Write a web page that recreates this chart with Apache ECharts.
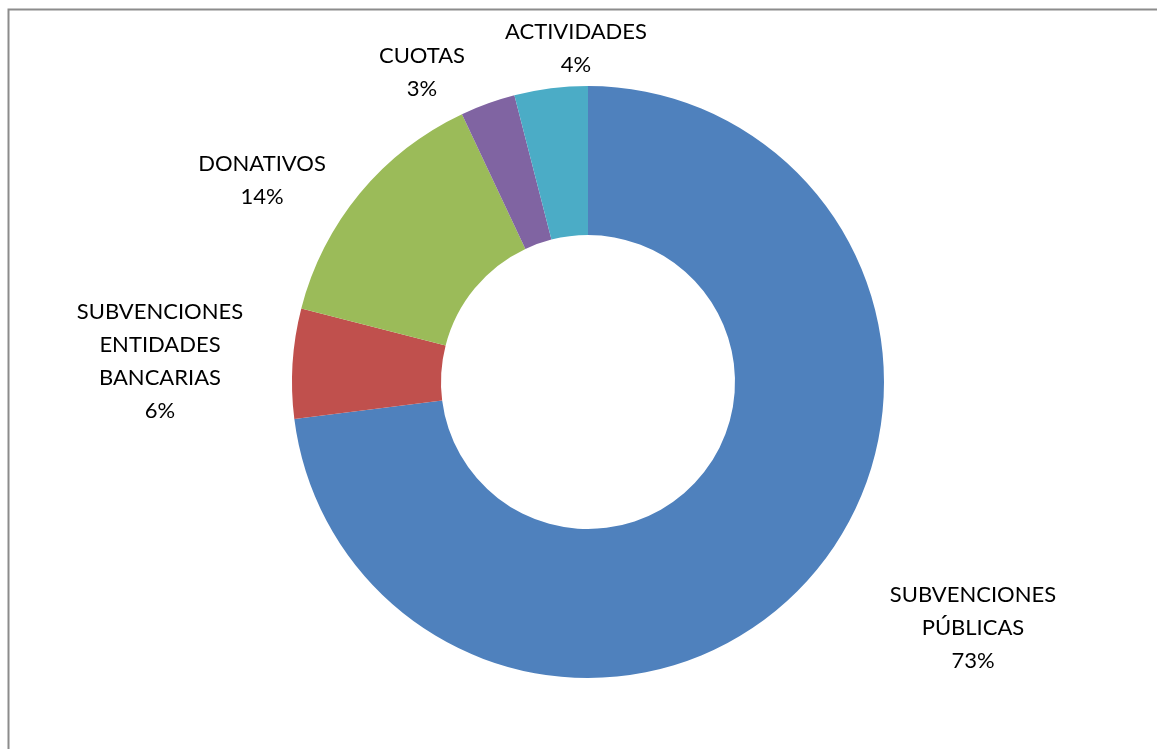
<!DOCTYPE html>
<html>
<head>
<meta charset="utf-8">
<script src="https://cdn.jsdelivr.net/npm/echarts@6/dist/echarts.min.js"></script>
<style>html,body{margin:0;padding:0;background:#fff;}#c{width:1157px;height:749px;}</style>
</head>
<body>
<div id="c"></div>
<script>
var categories = ['SUBVENCIONES PÚBLICAS', 'SUBVENCIONES ENTIDADES BANCARIAS', 'DONATIVOS', 'CUOTAS', 'ACTIVIDADES'];
var values = [73, 6, 14, 3, 4];
var colors = ['#4F81BD', '#C0504D', '#9BBB59', '#8064A2', '#4BACC6'];
var labelPos = [[973, 628], [160, 361], [262, 180], [422, 72], [576, 48]];

var chart = echarts.init(document.getElementById('c'));
chart.setOption({
  animation: false,
  backgroundColor: '#fff',
  graphic: [{
    type: 'rect',
    shape: { x: 8.5, y: 9.5, width: 1200, height: 800 },
    style: { fill: 'none', stroke: '#8c8c8c', lineWidth: 2 },
    silent: true
  }],
  series: [{
    type: 'pie',
    center: [588, 382],
    radius: [147, 296],
    startAngle: 90,
    clockwise: true,
    avoidLabelOverlap: false,
    data: categories.map(function (n, i) {
      return { name: n, value: values[i], itemStyle: { color: colors[i] } };
    }),
    label: {
      show: true,
      position: 'outside',
      formatter: function (p) { return p.name.replace(/ /g, '\n') + '\n' + p.percent + '%'; },
      fontFamily: 'Lato',
      fontSize: 22,
      lineHeight: 33,
      color: '#000',
      align: 'center'
    },
    labelLine: { show: false },
    labelLayout: function (p) {
      var pos = labelPos[p.dataIndex];
      return { x: pos[0], y: pos[1], align: 'center', verticalAlign: 'middle' };
    },
    emphasis: { disabled: true }
  }]
});
</script>
</body>
</html>
